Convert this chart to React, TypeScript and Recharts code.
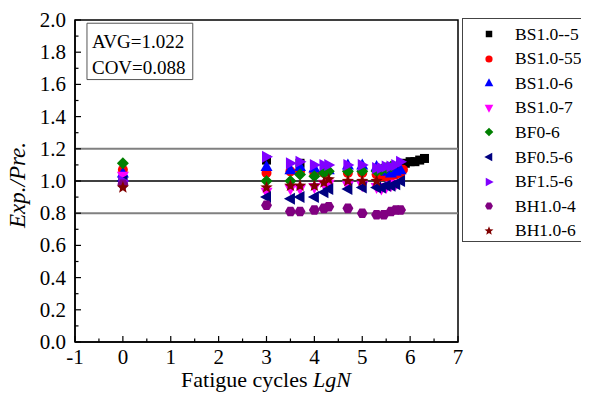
import React from 'react'
import {
  ScatterChart,
  Scatter,
  XAxis,
  YAxis,
  ReferenceLine,
  ReferenceArea
} from 'recharts'

// ticks
const xTicks = [-1, -0.5, 0, 0.5, 1, 1.5, 2, 2.5, 3, 3.5, 4, 4.5, 5, 5.5, 6, 6.5, 7]
const yTicks = [0, 0.1, 0.2, 0.3, 0.4, 0.5, 0.6, 0.7, 0.8, 0.9, 1.0, 1.1, 1.2, 1.3, 1.4, 1.5, 1.6, 1.7, 1.8, 1.9, 2.0]
const limitLines = [1.2, 1.0, 0.8]

// series values (LgN, Exp./Pre.)
const bs10_5X = [0, 3, 3.7, 5.4, 5.5, 5.6, 5.7, 5.8, 5.9, 6.0, 6.1, 6.2, 6.3]
const bs10_5Y = [1.0, 1.13, 1.11, 1.07, 1.08, 1.08, 1.09, 1.1, 1.11, 1.12, 1.12, 1.13, 1.14]

const bs10_55X = [0, 3, 3.5, 3.7, 4, 4.2, 4.7, 5, 5.3, 5.4, 5.5, 5.6, 5.7, 5.8, 5.85]
const bs10_55Y = [1.07, 1.05, 1.06, 1.06, 1.05, 1.05, 1.05, 1.05, 1.04, 1.03, 1.03, 1.03, 1.04, 1.05, 1.07]

const bs10_6X = [0, 3, 3.5, 3.7, 4, 4.2, 4.3, 4.7, 5, 5.3, 5.5, 5.6, 5.7, 5.8]
const bs10_6Y = [1.05, 1.09, 1.07, 1.09, 1.08, 1.07, 1.07, 1.1, 1.1, 1.09, 1.06, 1.05, 1.06, 1.07]

const bs10_7X = [0, 3, 3.5, 3.7, 4, 4.2, 4.3, 4.7, 5, 5.3, 5.4, 5.5, 5.6, 5.7]
const bs10_7Y = [1.03, 0.93, 0.95, 0.95, 0.96, 0.98, 0.98, 0.97, 0.97, 0.96, 0.95, 0.96, 0.97, 0.98]

const bf0_6X = [0, 3, 3.5, 3.7, 4, 4.2, 4.3, 4.7, 5, 5.3, 5.4, 5.5, 5.6]
const bf0_6Y = [1.11, 1.0, 1.0, 1.04, 1.03, 1.05, 1.06, 1.06, 1.06, 1.06, 1.07, 1.08, 1.09]

const bf05_6X = [0, 3, 3.5, 3.7, 4, 4.2, 4.3, 4.7, 5, 5.3, 5.4, 5.5, 5.6, 5.7, 5.8]
const bf05_6Y = [1.0, 0.9, 0.89, 0.9, 0.9, 0.93, 0.95, 0.95, 0.96, 0.96, 0.96, 0.97, 0.97, 0.98, 1.0]

const bf15_6X = [0, 3, 3.5, 3.7, 4, 4.2, 4.3, 4.7, 5, 5.3, 5.4, 5.5, 5.6, 5.7, 5.8]
const bf15_6Y = [1.0, 1.15, 1.11, 1.12, 1.1, 1.1, 1.1, 1.1, 1.1, 1.08, 1.08, 1.09, 1.09, 1.1, 1.12]

const bh10_4X = [0, 3, 3.5, 3.7, 4, 4.2, 4.3, 4.7, 5, 5.3, 5.45, 5.6, 5.7, 5.8]
const bh10_4Y = [0.98, 0.85, 0.81, 0.81, 0.82, 0.83, 0.84, 0.83, 0.8, 0.79, 0.79, 0.81, 0.82, 0.82]

const bh10_6X = [0, 3, 3.5, 3.7, 4, 4.2, 4.3, 4.7, 5, 5.3]
const bh10_6Y = [0.96, 0.96, 0.97, 0.97, 0.97, 0.99, 1.01, 1.0, 1.0, 1.0]

const toPoints = (xs: number[], ys: number[]) => xs.map((x, i) => ({ x, y: ys[i] }))

const FONT = "'Liberation Serif', 'Times New Roman', serif"
const fontStyle = { fontFamily: FONT }

const series = [
  { name: 'BS1.0--5', kind: 'square', color: '#000000', data: toPoints(bs10_5X, bs10_5Y) },
  { name: 'BS1.0-55', kind: 'circle', color: '#FF0000', data: toPoints(bs10_55X, bs10_55Y) },
  { name: 'BS1.0-6', kind: 'up', color: '#0000FF', data: toPoints(bs10_6X, bs10_6Y) },
  { name: 'BS1.0-7', kind: 'down', color: '#FF00FF', data: toPoints(bs10_7X, bs10_7Y) },
  { name: 'BF0-6', kind: 'diamond', color: '#008000', data: toPoints(bf0_6X, bf0_6Y) },
  { name: 'BF0.5-6', kind: 'left', color: '#000080', data: toPoints(bf05_6X, bf05_6Y) },
  { name: 'BF1.5-6', kind: 'right', color: '#8000FF', data: toPoints(bf15_6X, bf15_6Y) },
  { name: 'BH1.0-4', kind: 'hex', color: '#800080', data: toPoints(bh10_4X, bh10_4Y) },
  { name: 'BH1.0-6', kind: 'star', color: '#800000', data: toPoints(bh10_6X, bh10_6Y) }
]

const Marker = ({ cx, cy, kind, color, s = 1 }: any) => {
  if (cx == null || cy == null) return null
  const pts = (arr: number[][]) => arr.map(([a, b]) => `${cx + a * s},${cy + b * s}`).join(' ')
  switch (kind) {
    case 'square':
      return <rect x={cx - 4.5 * s} y={cy - 4.5 * s} width={9 * s} height={9 * s} fill={color} />
    case 'circle':
      return <circle cx={cx} cy={cy} r={5 * s} fill={color} />
    case 'up':
      return <polygon points={pts([[0, -6.5], [-6, 4.5], [6, 4.5]])} fill={color} />
    case 'down':
      return <polygon points={pts([[0, 6.5], [-6, -4.5], [6, -4.5]])} fill={color} />
    case 'left':
      return <polygon points={pts([[-6.5, 0], [4.5, -6], [4.5, 6]])} fill={color} />
    case 'right':
      return <polygon points={pts([[6.5, 0], [-4.5, -6], [-4.5, 6]])} fill={color} />
    case 'diamond':
      return <polygon points={pts([[0, -6], [6, 0], [0, 6], [-6, 0]])} fill={color} />
    case 'hex': {
      const h: number[][] = []
      for (let i = 0; i < 6; i++) {
        const a = (Math.PI / 3) * i
        h.push([5.5 * Math.cos(a), 5.5 * Math.sin(a)])
      }
      return <polygon points={pts(h)} fill={color} />
    }
    case 'star': {
      const st: number[][] = []
      for (let i = 0; i < 10; i++) {
        const a = -Math.PI / 2 + (Math.PI / 5) * i
        const r = i % 2 === 0 ? 6.5 : 2.8
        st.push([r * Math.cos(a), r * Math.sin(a)])
      }
      return <polygon points={pts(st)} fill={color} />
    }
    default:
      return null
  }
}

const XTick = ({ x, y, payload }: any) => {
  const v = payload.value
  const major = Number.isInteger(v)
  return (
    <g>
      <line x1={x} x2={x} y1={y} y2={y - (major ? 6 : 3.5)} stroke='#000' strokeWidth={1.2} />
      {major && (
        <text x={x} y={y + 22} textAnchor='middle' fontSize={21} style={fontStyle} fill='#000'>
          {v}
        </text>
      )}
    </g>
  )
}

const YTick = ({ x, y, payload }: any) => {
  const v = payload.value
  const major = Math.round(v * 10) % 2 === 0
  return (
    <g>
      <line x1={x} x2={x + (major ? 6 : 3.5)} y1={y} y2={y} stroke='#000' strokeWidth={1.2} />
      {major && (
        <text x={x - 9} y={y + 7} textAnchor='end' fontSize={21} style={fontStyle} fill='#000'>
          {v.toFixed(1)}
        </text>
      )}
    </g>
  )
}

const StatsBox = ({ viewBox }: any) => {
  const { x, y } = viewBox
  return (
    <g fill='#000'>
      <text x={x + 5} y={y + 25} fontSize={19} style={fontStyle}>AVG=1.022</text>
      <text x={x + 5} y={y + 51} fontSize={19} style={fontStyle}>COV=0.088</text>
    </g>
  )
}

const Legend = () => (
  <div
    style={{
      position: 'absolute',
      left: 462,
      top: 18,
      width: 140,
      height: 224,
      border: '1px solid #444',
      background: '#fff',
      boxSizing: 'border-box',
      fontFamily: FONT,
      fontSize: 17.5,
      color: '#000'
    }}
  >
    {series.map((s, i) => (
      <div
        key={s.name}
        style={{ position: 'absolute', left: 0, top: 3 + i * 24.6, height: 24, display: 'flex', alignItems: 'center' }}
      >
        <svg width={52} height={24}>
          <Marker cx={26} cy={12} kind={s.kind} color={s.color} s={0.72} />
        </svg>
        <span style={{ whiteSpace: 'nowrap' }}>{s.name}</span>
      </div>
    ))}
  </div>
)

export default function App() {
  return (
    <div style={{ position: 'relative', margin: -8, width: 589, height: 401, overflow: 'hidden', fontFamily: FONT }}>
      <ScatterChart width={589} height={401} margin={{ top: 20, right: 131, bottom: 14, left: 15 }}>
        <XAxis
          type='number'
          dataKey='x'
          domain={[-1, 7]}
          ticks={xTicks}
          interval={0}
          tickSize={0}
          tickMargin={0}
          tick={<XTick />}
          height={45}
          stroke='#000'
          strokeWidth={1.5}
          label={{
            content: () => (
              <text x={266} y={387} textAnchor='middle' style={fontStyle} fontSize={22} fill='#000'>
                Fatigue cycles <tspan fontStyle='italic'>LgN</tspan>
              </text>
            )
          }}
        />
        <YAxis
          type='number'
          dataKey='y'
          domain={[0, 2]}
          ticks={yTicks}
          interval={0}
          tickSize={0}
          tickMargin={0}
          tick={<YTick />}
          width={60}
          stroke='#000'
          strokeWidth={1.5}
          label={{
            content: () => (
              <text
                x={0}
                y={0}
                transform='translate(25,185) rotate(-90)'
                textAnchor='middle'
                style={fontStyle}
                fontSize={23}
                fontStyle='italic'
                fill='#000'
              >
                Exp./Pre.
              </text>
            )
          }}
        />
        <ReferenceArea x1={-1} x2={7} y1={0} y2={2} fill='none' stroke='#000' strokeWidth={1.5} fillOpacity={0} />
        {limitLines.map((v) => (
          <ReferenceLine
            key={v}
            y={v}
            stroke={v === 1.0 ? '#000' : '#808080'}
            strokeWidth={v === 1.0 ? 1.5 : 2}
          />
        ))}
        <ReferenceArea
          x1={-0.75}
          x2={1.46}
          y1={1.63}
          y2={1.98}
          fill='#fff'
          fillOpacity={1}
          stroke='#555'
          strokeWidth={1}
          label={<StatsBox />}
        />
        {series.map((s) => (
          <Scatter
            key={s.name}
            name={s.name}
            data={s.data}
            isAnimationActive={false}
            shape={(p: any) => <Marker cx={p.cx} cy={p.cy} kind={s.kind} color={s.color} />}
          />
        ))}
      </ScatterChart>
      <Legend />
    </div>
  )
}
